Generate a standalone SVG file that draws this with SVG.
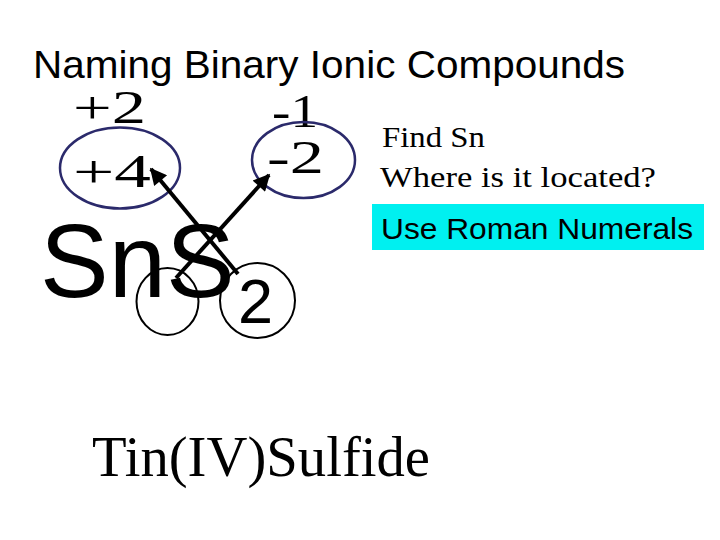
<svg xmlns="http://www.w3.org/2000/svg" width="720" height="540" viewBox="0 0 720 540">
<defs>
<style>
.title{font-family:"Liberation Sans",Arial,sans-serif;font-size:39px;fill:#000}
.chg{font-family:"Liberation Serif","Times New Roman",serif;font-size:46px;fill:#000}
.note{font-family:"Liberation Serif","Times New Roman",serif;font-size:30px;fill:#000}
.formula{font-family:"Liberation Sans",Arial,sans-serif;fill:#000}
.name{font-family:"Liberation Serif","Times New Roman",serif;font-size:56px;fill:#000}
.oval{fill:none;stroke:#2b2a6b;stroke-width:2.5}
.ring{fill:none;stroke:#000;stroke-width:2}
.arrow{stroke:#000;stroke-width:4;fill:none;marker-end:url(#head)}
</style>
<marker id="head" viewBox="0 0 10 10" refX="9" refY="5" markerWidth="5" markerHeight="4.2" orient="auto" markerUnits="strokeWidth">
<path d="M0,0 L10,5 L0,10 z" fill="#000"/>
</marker>
</defs>
<rect width="720" height="540" fill="#fff"/>
<g id="title"><text class="title" x="33" y="78" textLength="592" lengthAdjust="spacingAndGlyphs">Naming Binary Ionic Compounds</text></g>
<g id="charge-sn-2"><text class="chg" x="73" y="123" textLength="73" lengthAdjust="spacingAndGlyphs">+2</text></g>
<g id="charge-sn-4">
<ellipse class="oval" cx="120" cy="168" rx="60" ry="40.5"/>
<text class="chg" x="73" y="187" textLength="78" lengthAdjust="spacingAndGlyphs" font-size="52">+4</text>
</g>
<g id="charge-s-1"><text class="chg" x="272" y="127" textLength="46" lengthAdjust="spacingAndGlyphs">-1</text></g>
<g id="charge-s-2">
<ellipse class="oval" cx="303.5" cy="160" rx="51.5" ry="38"/>
<text class="chg" x="267" y="173" textLength="57" lengthAdjust="spacingAndGlyphs">-2</text>
</g>
<g id="formula">
<text class="formula" x="40" y="297" font-size="103">SnS</text>
<text class="formula" x="238" y="323" font-size="63">2</text>
<ellipse class="ring" cx="167.5" cy="301.5" rx="31" ry="33.5"/>
<circle class="ring" cx="257.5" cy="300.5" r="37.5"/>
</g>
<g id="connectors">
<line class="arrow" x1="238" y1="274" x2="151" y2="169"/>
<line class="arrow" x1="176" y1="278" x2="269" y2="175"/>
</g>
<g id="hint">
<text class="note" x="382" y="147" textLength="103" lengthAdjust="spacingAndGlyphs">Find Sn</text>
<text class="note" x="380" y="187" textLength="276" lengthAdjust="spacingAndGlyphs">Where is it located?</text>
</g>
<g id="roman">
<rect x="372" y="204" width="332" height="46" fill="#00f0f0"/>
<text class="formula" x="381" y="239" font-size="29" textLength="312" lengthAdjust="spacingAndGlyphs">Use Roman Numerals</text>
</g>
<g id="name"><text class="name" x="92" y="476" textLength="338" lengthAdjust="spacingAndGlyphs">Tin(IV)Sulfide</text></g>
</svg>
